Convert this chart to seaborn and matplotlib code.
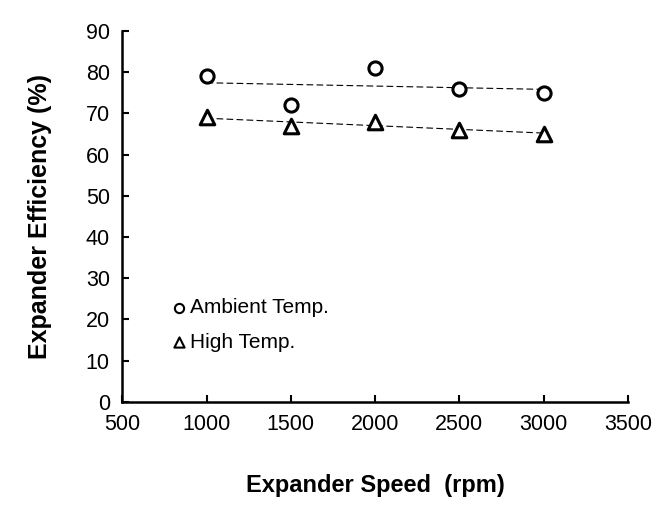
import numpy as np
import pandas as pd
import seaborn as sns
import matplotlib.pyplot as plt

# datos
velocidad = [1000, 1500, 2000, 2500, 3000]
ambiente = [79, 72, 81, 76, 75]
alta = [69, 67, 68, 66, 65]

df = pd.DataFrame({"velocidad": velocidad, "ambiente": ambiente, "alta": alta})

sns.set_theme(style="ticks")
plt.rcParams['font.family'] = ['Liberation Sans', 'DejaVu Sans']
plt.rcParams['text.color'] = 'black'
plt.rcParams['axes.labelcolor'] = 'black'

fig = plt.figure(figsize=(6.61, 5.05), dpi=100)
ax = fig.add_axes([0.185, 0.204, 0.765, 0.735])

# lineas de tendencia
sns.regplot(data=df, x="velocidad", y="ambiente", ci=None, scatter=False, ax=ax,
            line_kws=dict(color="black", lw=0.8, ls=(0, (6, 3))))
sns.regplot(data=df, x="velocidad", y="alta", ci=None, scatter=False, ax=ax,
            line_kws=dict(color="black", lw=0.8, ls=(0, (6, 3))))

sns.scatterplot(data=df, x="velocidad", y="ambiente", marker="o", s=90,
                facecolor="white", edgecolor="black", linewidth=2.2, ax=ax,
                label="Ambient Temp.", zorder=3)
sns.scatterplot(data=df, x="velocidad", y="alta", marker="^", s=110,
                facecolor="white", edgecolor="black", linewidth=2.2, ax=ax,
                label="High Temp.", zorder=3)

ax.set_xlim(500, 3500)
ax.set_ylim(0, 90)
ax.set_xticks(range(500, 3501, 500))
ax.set_yticks(range(0, 91, 10))
ax.tick_params(direction="in", length=5, width=1.5, labelsize=15.5, colors="black", pad=9)
for s in ["top", "right"]:
    ax.spines[s].set_visible(False)
for s in ["left", "bottom"]:
    ax.spines[s].set_linewidth(1.8)
    ax.spines[s].set_color("black")

ax.set_xlabel("Expander Speed  (rpm)", fontsize=17, fontweight="bold", labelpad=28)
ax.set_ylabel("Expander Efficiency (%)", fontsize=18, fontweight="bold", labelpad=24)

leg = ax.legend(loc="lower left", bbox_to_anchor=(0.055, 0.085), frameon=False, fontsize=15,
                handletextpad=0.0, labelspacing=0.75, markerscale=0.7, handlelength=1.0)
for h in leg.legend_handles:
    h.set_linewidth(1.5)

fig.savefig("out.png", dpi=100)
